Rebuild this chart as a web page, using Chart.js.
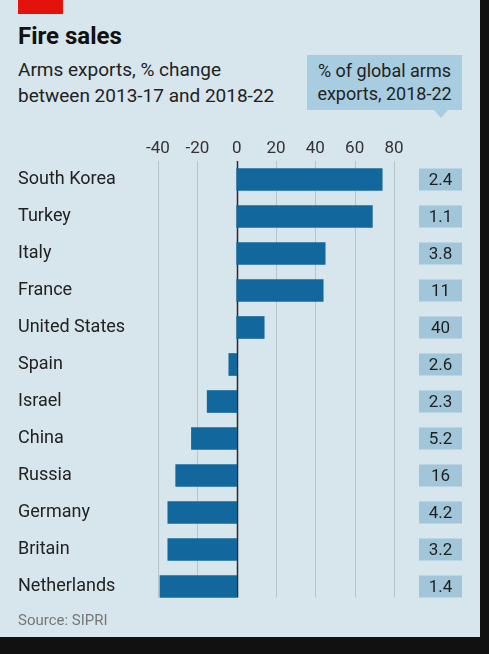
<!DOCTYPE html>
<html>
<head>
<meta charset="utf-8">
<script src="https://cdn.jsdelivr.net/npm/chart.js@4"></script>
<style>
  body { margin: 0; background: #111; width: 489px; height: 654px; overflow: hidden; font-family: Roboto, "Open Sans", sans-serif; }
  #panel { position: absolute; left: 0; top: 0; width: 480px; height: 637px; background: #d7e5ec; }
  #redbar { position: absolute; left: 18px; top: 0; width: 45px; height: 14px; background: #e3120b; }
  #title { position: absolute; left: 18px; top: 22px; font-size: 24px; font-weight: 700; color: #111; }
  #sub { position: absolute; left: 18px; top: 57px; font-size: 19px; line-height: 26px; color: #222; }
  #callout { position: absolute; left: 307px; top: 55px; width: 155px; height: 55px; background: #a9cde0; color: #222;
             font-size: 18px; line-height: 23px; text-align: center; padding-top: 4px; box-sizing: border-box; }
  #callout:after { content: ""; position: absolute; left: 127px; top: 55px; border-left: 7px solid transparent;
                   border-right: 7px solid transparent; border-top: 8px solid #a9cde0; }
  #source { position: absolute; left: 18px; top: 611px; font-size: 15px; color: #777; }
  #wrap { position: absolute; left: 0; top: 0; width: 480px; height: 637px; }
</style>
</head>
<body>
<div id="panel">
  <div id="redbar"></div>
  <div id="title">Fire sales</div>
  <div id="sub">Arms exports, % change<br>between 2013-17 and 2018-22</div>
  <div id="callout">% of global arms<br>exports, 2018-22</div>
  <div id="wrap"><canvas id="chart"></canvas></div>
  <div id="source">Source: SIPRI</div>
</div>
<script>
const countries = ['South Korea', 'Turkey', 'Italy', 'France', 'United States', 'Spain',
  'Israel', 'China', 'Russia', 'Germany', 'Britain', 'Netherlands'];
const changes = [74, 69, 45, 44, 14, -4, -15, -23, -31, -35, -35, -39];
const shares = ['2.4', '1.1', '3.8', '11', '40', '2.6', '2.3', '5.2', '16', '4.2', '3.2', '1.4'];

// grid lines stop at the bottom of the last bar, zero line drawn dark
const gridPlugin = {
  id: 'grid',
  beforeDatasetsDraw(chart) {
    const { ctx, chartArea, scales: { x, y } } = chart;
    const bottom = y.getPixelForValue(countries.length - 1) + 11;
    ctx.save();
    x.ticks.forEach(t => {
      const px = Math.round(x.getPixelForValue(t.value)) + 0.5;
      ctx.strokeStyle = t.value === 0 ? '#2b2b2b' : '#b5c5ce';
      ctx.lineWidth = t.value === 0 ? 1.5 : 1;
      ctx.beginPath();
      ctx.moveTo(px, chartArea.top);
      ctx.lineTo(px, bottom);
      ctx.stroke();
    });
    ctx.restore();
  }
};

// share-of-global-exports boxes on the right
const sharePlugin = {
  id: 'shares',
  afterDatasetsDraw(chart) {
    const { ctx, scales: { y } } = chart;
    ctx.save();
    ctx.font = '17px Roboto, sans-serif';
    ctx.textAlign = 'center';
    ctx.textBaseline = 'middle';
    shares.forEach((s, i) => {
      const py = y.getPixelForValue(i);
      ctx.fillStyle = '#a1c6da';
      ctx.fillRect(419, py - 11, 43, 22);
      ctx.fillStyle = '#1f1f1f';
      ctx.fillText(s, 440.5, py + 1);
    });
    ctx.restore();
  }
};

new Chart(document.getElementById('chart'), {
  type: 'bar',
  data: {
    labels: countries,
    datasets: [{
      data: changes,
      backgroundColor: '#12689c',
      barThickness: 22,
      borderWidth: 0
    }]
  },
  options: {
    indexAxis: 'y',
    responsive: true,
    maintainAspectRatio: false,
    animation: false,
    layout: { padding: { left: 18, right: 86, top: 121, bottom: 32 } },
    plugins: { legend: { display: false }, tooltip: { enabled: false } },
    scales: {
      x: {
        position: 'top',
        min: -40,
        max: 80,
        ticks: { stepSize: 20, color: '#333', font: { size: 17, family: 'Roboto' }, padding: 2 },
        grid: { display: false, drawTicks: false },
        border: { display: false },
        afterFit(scale) { scale.height = 40; }
      },
      y: {
        ticks: { crossAlign: 'far', color: '#222', font: { size: 18, family: 'Roboto' }, padding: 0 },
        grid: { display: false, drawTicks: false },
        border: { display: false },
        afterFit(scale) { scale.width = 140; }
      }
    }
  },
  plugins: [gridPlugin, sharePlugin]
});
</script>
</body>
</html>
